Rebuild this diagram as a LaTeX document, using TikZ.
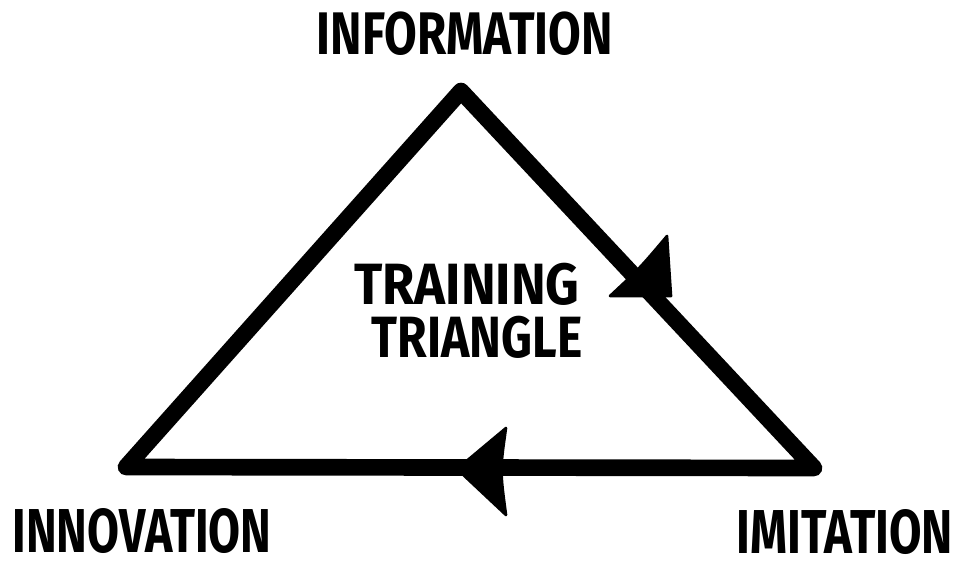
\documentclass[tikz,border=0pt]{standalone}
\usepackage{fontspec}
\setmainfont{Fira Sans}
\begin{document}
\begin{tikzpicture}[x=0.75pt,y=-0.75pt,
  edge/.style={line width=12.5pt,line join=round,line cap=round,black},
  head/.style={fill=black,draw=black,line width=2pt,line join=round},
  lbl/.style={inner sep=0pt,outer sep=0pt,anchor=center,text=black}]
\useasboundingbox[fill=white] (0,0) rectangle (960,562);
% vertices
\coordinate (top) at (461,91);
\coordinate (br) at (814,468);
\coordinate (bl) at (126,467);
\draw[edge] (top) -- (br) -- (bl) -- cycle;
% arrowheads
\coordinate (r1) at (667,236);
\coordinate (r2) at (610,296);
\coordinate (rt) at (671,296);
\filldraw[head] (r1) -- (rt) -- (r2) .. controls (640,268) .. (r1) -- cycle;
\coordinate (b1) at (506,428);
\coordinate (b2) at (506,515);
\coordinate (bt) at (457,469);
\filldraw[head] (bt) -- (b1) .. controls (500,470) .. (b2) -- cycle;
% labels
\node[lbl] (info) at (465,34) {\resizebox{222pt}{32pt}{\bfseries INFORMATION}};
\node[lbl] (train1) at (467,284) {\resizebox{169pt}{31pt}{\bfseries TRAINING}};
\node[lbl] (train2) at (477,337) {\resizebox{158pt}{31pt}{\bfseries TRIANGLE}};
\node[lbl] (innov) at (142,531) {\resizebox{194pt}{33pt}{\bfseries INNOVATION}};
\node[lbl] (imit) at (845,532) {\resizebox{162pt}{33pt}{\bfseries IMITATION}};
\end{tikzpicture}
\end{document}
